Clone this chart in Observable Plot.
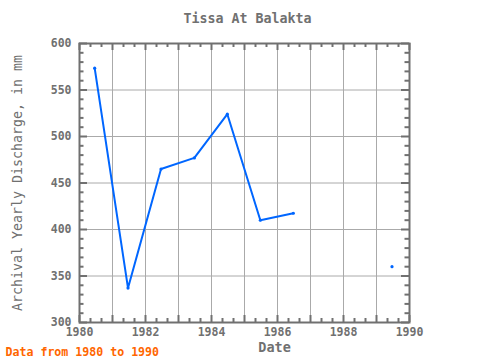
<!DOCTYPE html>
<html>
<head>
<meta charset="utf-8">
<script src="https://cdn.jsdelivr.net/npm/d3@7"></script>
<script src="https://cdn.jsdelivr.net/npm/@observablehq/plot@0.6"></script>
<style>
  html, body { margin: 0; padding: 0; background: #fff; }
  #chart svg { display: block; }
</style>
</head>
<body>
<div id="chart"></div>
<script>
// ---- data ----
const title = "Tissa At Balakta";
const yLabel = "Archival Yearly Discharge, in mm";
const xLabel = "Date";
const footer = "Data from 1980 to 1990";
const years = [1980.46, 1981.47, 1982.47, 1983.48, 1984.48, 1985.48, 1986.48, 1989.47];
const discharge = [573.5, 337, 465, 477, 524, 410, 417.5, 360];
const xTickLabels = [1980, 1982, 1984, 1986, 1988, 1990];
const yTickLabels = [300, 350, 400, 450, 500, 550, 600];
const xGrid = [1981, 1982, 1983, 1984, 1985, 1986, 1987, 1988, 1989];
const yGrid = [350, 400, 450, 500, 550];

// ---- layout ----
const W = 480, H = 360;
const mL = 79, mR = 71, mT = 43, mB = 38;
const xDomain = [1980, 1990], yDomain = [300, 600];
const pxX = (W - mL - mR) / (xDomain[1] - xDomain[0]);
const pxY = (H - mT - mB) / (yDomain[1] - yDomain[0]);

// rows with segment ids (break line where a year is missing)
let seg = 0;
const rows = years.map((yr, i) => {
  if (i > 0 && yr - years[i - 1] > 1.5) seg++;
  return {year: yr, value: discharge[i], seg};
});

const xMinor = d3.range(0, 31).map(i => xDomain[0] + i / 3).filter(v => Math.abs(v - Math.round(v)) > 1e-6);
const xMajor = d3.range(xDomain[0], xDomain[1] + 1);
const yMinor = d3.range(yDomain[0], yDomain[1] + 1, 10).filter(v => v % 50 !== 0);
const yMajor = d3.range(yDomain[0], yDomain[1] + 1, 50);

const gray = "#707070";
const font = "'DejaVu Sans Mono', monospace";

const minorX = 4 / pxY, majorX = 7 / pxY;
const minorY = 4.5 / pxX, majorY = 8 / pxX;

const plot = Plot.plot({
  width: W, height: H,
  marginLeft: mL, marginRight: mR, marginTop: mT, marginBottom: mB,
  style: {fontFamily: font, background: "#fff"},
  x: {domain: xDomain},
  y: {domain: yDomain},
  marks: [
    Plot.gridX(xGrid, {stroke: "#aaaaaa", strokeOpacity: 1, strokeWidth: 1}),
    Plot.gridY(yGrid, {stroke: "#aaaaaa", strokeOpacity: 1, strokeWidth: 1}),
    // inward ticks
    Plot.ruleX(xMinor, {x: d => d, y1: yDomain[0], y2: yDomain[0] + minorX, stroke: gray, strokeWidth: 2}),
    Plot.ruleX(xMinor, {x: d => d, y1: yDomain[1], y2: yDomain[1] - minorX, stroke: gray, strokeWidth: 2}),
    Plot.ruleX(xMajor, {x: d => d, y1: yDomain[0], y2: yDomain[0] + majorX, stroke: gray, strokeWidth: 2}),
    Plot.ruleX(xMajor, {x: d => d, y1: yDomain[1], y2: yDomain[1] - majorX, stroke: gray, strokeWidth: 2}),
    Plot.ruleY(yMinor, {y: d => d, x1: xDomain[0], x2: xDomain[0] + minorY, stroke: gray, strokeWidth: 2}),
    Plot.ruleY(yMinor, {y: d => d, x1: xDomain[1], x2: xDomain[1] - minorY, stroke: gray, strokeWidth: 2}),
    Plot.ruleY(yMajor, {y: d => d, x1: xDomain[0], x2: xDomain[0] + majorY, stroke: gray, strokeWidth: 2}),
    Plot.ruleY(yMajor, {y: d => d, x1: xDomain[1], x2: xDomain[1] - majorY, stroke: gray, strokeWidth: 2}),
    Plot.frame({stroke: gray, strokeWidth: 2}),
    Plot.axisX({ticks: xTickLabels, tickFormat: d => String(d), tickSize: 0, tickPadding: 5,
      fontSize: 11.5, fontWeight: "bold", fill: gray, label: null}),
    Plot.axisY({ticks: yTickLabels, tickFormat: d => String(d), tickSize: 0, tickPadding: 8,
      fontSize: 11.5, fontWeight: "bold", fill: gray, label: null}),
    Plot.line(rows, {x: "year", y: "value", z: "seg", stroke: "#0066ff", strokeWidth: 2}),
    Plot.dot(rows, {x: "year", y: "value", r: 1.6, fill: "#0066ff", stroke: null}),
    // titles
    Plot.text([title], {text: d => d, frameAnchor: "top", lineAnchor: "middle", dx: 3, dy: -25,
      fontSize: 13.3, fill: gray, fontWeight: "bold"}),
    Plot.text([yLabel], {text: d => d, frameAnchor: "left", textAnchor: "middle", lineAnchor: "middle",
      rotate: -90, dx: -62, fontSize: 13.3, fill: gray}),
    Plot.text([xLabel], {text: d => d, frameAnchor: "bottom", lineAnchor: "middle", dx: 30, dy: 25,
      fontSize: 13.5, fill: gray, fontWeight: "bold"}),
    Plot.text([footer], {text: d => d, frameAnchor: "bottom-left", textAnchor: "start", lineAnchor: "middle",
      dx: 5 - mL, dy: 30, fontSize: 11.6, fill: "#ff6600", fontWeight: "bold"})
  ]
});
document.getElementById("chart").appendChild(plot);
</script>
</body>
</html>
